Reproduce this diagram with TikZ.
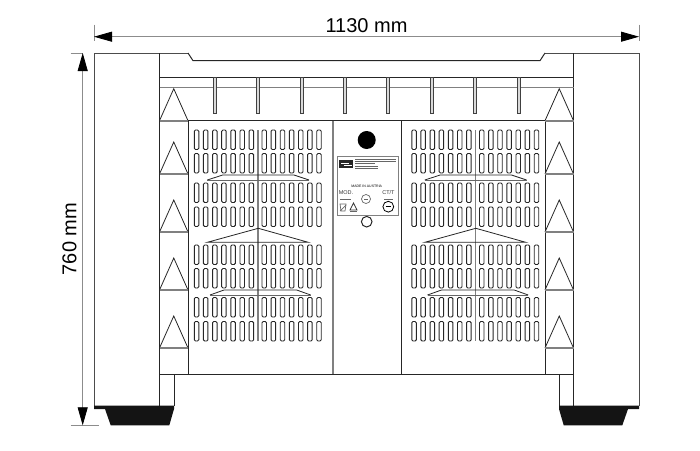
\documentclass[tikz,border=0pt]{standalone}
\usepackage{fontspec}
\setmainfont{Liberation Sans}
\usetikzlibrary{
    arrows.meta,
    calc
}
\definecolor{dimgray}{gray}{0.55}
\definecolor{midgray}{gray}{0.5}
\tikzset{
    dimline/.style={draw=dimgray, line width=0.8pt},
    dimarrow/.style={dimline, {Triangle[length=18pt,width=10pt,black]}-{Triangle[length=18pt,width=10pt,black]}},
    edgeline/.style={draw=black!85, line width=1pt},
    grayline/.style={draw=midgray, line width=1.6pt},
    slotshape/.style={draw=black!85, line width=0.9pt, rounded corners=1.2pt},
    finshape/.style={draw=black!75, fill=black!15, line width=0.7pt},
    microline/.style={draw=black!60, line width=0.45pt},
    footshape/.style={fill=black!92, draw=none}
}

\begin{document}
\begin{tikzpicture}[x=1pt, y=-1pt]
    \useasboundingbox (0, 0) rectangle (700, 450);

    % outer bodies
    \draw[edgeline, draw=black!70] (94, 405.5) -- (94, 53) -- (188, 53);
    \draw[edgeline, draw=black!70] (639, 405.5) -- (639, 53) -- (545, 53);
    \draw[edgeline] (159.5, 405.5) -- (159.5, 53);
    \draw[edgeline] (573.5, 405.5) -- (573.5, 53);
    \draw[edgeline] (188, 53) -- (193, 60.7) -- (540, 60.7) -- (545, 53);

    % top rails
    \draw[edgeline] (159.5, 77.3) -- (573.5, 77.3);
    \draw[grayline] (159.5, 87.3) -- (573.5, 87.3);
    \foreach \finx in {215, 258.2, 301.7, 345, 388, 432, 475.3, 518.7} {
        \draw[finshape] (\finx-1.5, 77.3) rectangle (\finx+1.5, 113);
    }

    % front panel
    \draw[edgeline] (159.5, 120.7) -- (573.5, 120.7);
    \draw[edgeline] (159.5, 374) -- (573.5, 374);
    \draw[edgeline] (188, 120.7) -- (188, 374);
    \draw[edgeline] (545, 120.7) -- (545, 374);
    \draw[grayline] (333, 120.7) -- (333, 374);
    \draw[edgeline] (401, 120.7) -- (401, 374);

    % side triangles
    \foreach \basey in {120.7, 174, 232, 290, 348} {
        \foreach \tx in {159.5, 545} {
            \draw[edgeline, line width=0.8pt] (\tx, \basey) -- (\tx+14.25, \basey-32) -- (\tx+28.5, \basey);
            \draw[grayline] (\tx, \basey) -- (\tx+28.5, \basey);
        }
    }

    % vent slots, two fields
    \foreach \dx in {0, 217.5} {
        \foreach \rowy in {130, 153.5, 183, 207, 245, 268.5, 297.5, 321.5} {
            \foreach \i in {0, ..., 6} {
                \draw[slotshape] ({194.3+\dx+\i*9.13}, \rowy) rectangle ++(4.5, 19.5);
                \draw[slotshape] ({262+\dx+\i*9.13}, \rowy) rectangle ++(4.5, 19.5);
            }
        }
        \draw[grayline, line width=1.2pt] (258+\dx, 130) -- (258+\dx, 341);
        \draw[edgeline, line width=0.8pt] (207.3+\dx, 180) -- (222.7+\dx, 175) -- (294+\dx, 175) -- (309+\dx, 180);
        \draw[microline] (207.3+\dx, 180) -- (309+\dx, 180);
        \draw[edgeline, line width=0.8pt] (207.3+\dx, 242.3) -- (258.3+\dx, 228.3) -- (308.3+\dx, 242.3) -- cycle;
        \draw[edgeline, line width=0.8pt] (210+\dx, 295) -- (224+\dx, 290) -- (296.7+\dx, 290) -- (310.7+\dx, 295);
        \draw[microline] (210+\dx, 295) -- (310.7+\dx, 295);
    }

    % centre plate
    \fill[black] (366.7, 140) circle (9);
    \draw[edgeline] (366.7, 221.7) circle (5.3);
    \draw[draw=black!50, line width=0.8pt] (337.3, 156.7) rectangle (398.5, 215);
    \fill[black!85] (339, 160) rectangle (353.3, 168.3);
    \draw[draw=white, line width=0.5pt] (341, 163) -- (349, 163) (344, 165.5) -- (352, 165.5);
    \draw[microline]
        (355, 159.5) -- (396, 159.5)
        (355, 161.5) -- (396, 161.5)
        (355, 163.7) -- (375, 163.7)
        (355, 166) -- (378, 166)
        (355, 168.5) -- (378, 168.5);
    \node[inner sep=0pt, font=\fontsize{3.5}{4}\selectfont] (madein) at (366.7, 186) {MADE IN AUSTRIA};
    \node[inner sep=0pt, font=\fontsize{5.5}{6}\selectfont, text=black!80] (modlabel) at (346, 192.3) {MOD.};
    \node[inner sep=0pt, font=\fontsize{5.5}{6}\selectfont, text=black!80] (ctlabel) at (388.4, 192.3) {CT/T};
    \draw[microline] (340, 199) -- (351, 199) (384, 199) -- (393, 199);
    \draw[microline, line width=0.7pt] (366, 199) circle (4.5);
    \draw[microline] (364, 199) -- (368, 199);
    \draw[draw=black, line width=0.8pt] (388.3, 206.7) circle (5.4);
    \draw[draw=black, line width=1pt] (385.5, 206.7) -- (391, 206.7);
    \draw[microline, line width=0.7pt] (340, 204) -- (346, 204) -- (345, 211) -- (341, 211) -- cycle;
    \draw[microline, line width=0.7pt] (340, 211) -- (346, 205);
    \draw[draw=black!80, line width=0.8pt] (350, 210) -- (353.5, 203) -- (357, 210) -- cycle;
    \draw[microline] (350, 211.5) -- (357, 211.5);

    % feet and their stands
    \foreach \sx/\sgn in {0/1, 733/-1} {
        \draw[edgeline] (\sx+\sgn*174, 374) -- (\sx+\sgn*174, 405.5);
        \fill[footshape] (\sx+\sgn*94, 405.5) -- (\sx+\sgn*174, 405.5) -- (\sx+\sgn*174, 409)
            -- (\sx+\sgn*169.3, 425.3) -- (\sx+\sgn*110.7, 425.3) -- (\sx+\sgn*105, 409)
            -- (\sx+\sgn*94, 409) -- cycle;
    }

    % dimensions
    \coordinate (widthl) at (94, 36.7);
    \coordinate (widthr) at (639, 36.7);
    \coordinate (heightt) at (82.7, 53);
    \coordinate (heightb) at (82.7, 425.3);
    \draw[dimline] (94, 24.7) -- (94, 41);
    \draw[dimline] (639, 24.7) -- (639, 41);
    \draw[dimline] (70.7, 53) -- (82.7, 53);
    \draw[dimline] (70.7, 425.3) -- (99, 425.3);
    \draw[dimarrow] (widthl) -- (widthr);
    \draw[dimarrow] (heightt) -- (heightb);
    \node[inner sep=0pt, font=\fontsize{20}{24}\selectfont] (widthlabel) at (366.5, 25.5) {1130 mm};
    \node[inner sep=0pt, rotate=90, font=\fontsize{20}{24}\selectfont] (heightlabel) at (69.5, 239) {760 mm};
\end{tikzpicture}
\end{document}
